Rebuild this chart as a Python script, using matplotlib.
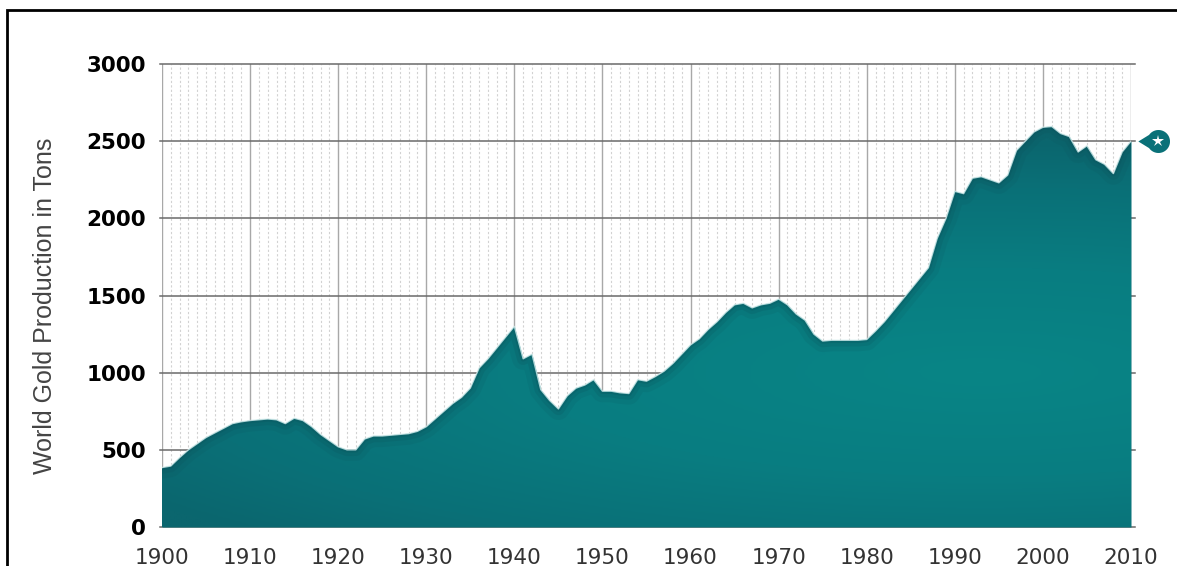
import numpy as np
import matplotlib
matplotlib.use("Agg")
import matplotlib.pyplot as plt
from matplotlib.colors import LinearSegmentedColormap
from matplotlib.patches import Rectangle
from matplotlib.path import Path

# world gold production, tons per year
years = np.arange(1900, 2011)
tons = [
    385, 395, 450, 500, 540, 580, 610, 640, 670, 682,          # 1900s
    690, 695, 700, 695, 670, 705, 690, 650, 600, 560,          # 1910s
    520, 500, 500, 570, 590, 590, 595, 600, 605, 620,          # 1920s
    650, 700, 750, 800, 840, 900, 1030, 1090, 1160, 1230,      # 1930s
    1300, 1090, 1120, 890, 820, 765, 850, 900, 920, 955,       # 1940s
    880, 880, 870, 865, 955, 945, 975, 1010, 1060, 1120,       # 1950s
    1180, 1220, 1280, 1330, 1390, 1440, 1450, 1420, 1440, 1450,  # 1960s
    1477, 1440, 1380, 1340, 1250, 1205, 1210, 1210, 1210, 1210,  # 1970s
    1215, 1270, 1330, 1400, 1470, 1540, 1610, 1680, 1870, 2000,  # 1980s
    2175, 2160, 2260, 2270, 2250, 2230, 2280, 2440, 2500, 2560,  # 1990s
    2590, 2595, 2550, 2530, 2430, 2470, 2380, 2350, 2290, 2430,  # 2000s
    2500,
]
yticks = [0, 500, 1000, 1500, 2000, 2500, 3000]
xticks = list(range(1900, 2011, 10))

teal = "#0a7178"

fig = plt.figure(figsize=(11.77, 5.66), dpi=100)
ax = fig.add_axes([162 / 1177, 39 / 566, 969 / 1177, 463 / 566])

# grid: light dashed yearly lines, solid decade lines, dark horizontals
for yr in range(1900, 2011):
    if yr % 10:
        ax.axvline(yr, color="#d2d2d2", lw=0.8, ls=(0, (2, 2)), zorder=0)
    else:
        ax.axvline(yr, color="#a8a8a8", lw=1.0, zorder=0)
for v in yticks:
    ax.plot([1899.8, 2010.4], [v, v], color="#6a6a6a", lw=1.1, zorder=0.5,
            clip_on=False)

# filled area with radial teal gradient
poly = ax.fill_between(years, tons, 0, color=teal, lw=0, zorder=2)
clip = poly.get_paths()[0]
gx, gy = np.meshgrid(np.linspace(1900, 2010, 400), np.linspace(0, 3000, 300))
r = np.sqrt(((gx - 1993) / 115.0) ** 2 + ((gy - 1000) / 1500.0) ** 2)
r = np.clip(r, 0, 1)
cmap = LinearSegmentedColormap.from_list(
    "teal", [(0, "#088586"), (0.45, "#097d81"), (0.8, "#0a7077"), (1, "#0b666e")])
img = ax.imshow(r, extent=[1900, 2010, 0, 3000], origin="lower", cmap=cmap,
                aspect="auto", zorder=3, interpolation="bilinear")
img.set_clip_path(clip, transform=ax.transData)

# soft inner shadow along the top edge
for lw, a in [(16, 0.12), (9, 0.18), (4, 0.25)]:
    ln, = ax.plot(years, tons, color="#0b4f58", lw=lw, alpha=a, zorder=3.5,
                  solid_capstyle="round")
    ln.set_clip_path(clip, transform=ax.transData)
ax.plot(years, tons, color="#d8f0f0", lw=1.0, zorder=4, alpha=0.8)

ax.set_xlim(1900, 2010)
ax.set_ylim(0, 3000)
ax.set_xticks(xticks)
ax.set_yticks(yticks)
for s in ax.spines.values():
    s.set_visible(False)
ax.tick_params(axis="both", length=0)
ax.tick_params(axis="x", pad=15, labelsize=15.5, labelcolor="#333333")
ax.tick_params(axis="y", pad=11.5, labelsize=15.5)
for lab in ax.get_yticklabels():
    lab.set_fontweight("bold")
ax.set_ylabel("World Gold Production in Tons", fontsize=18, color="#444444",
              family=["Liberation Sans", "DejaVu Sans"])
ax.yaxis.set_label_coords(-0.108, 0.477)

# marker on the right: teal teardrop with white star
ang = np.linspace(np.radians(-145), np.radians(145), 40)
verts = [(-1.75, 0.0)] + [(np.cos(t), np.sin(t)) for t in ang[::-1]] + [(-1.75, 0.0)]
drop = Path(verts, closed=True)
ax.plot([2013.1], [2500], marker=drop, ms=29, color=teal, mew=0,
        clip_on=False, zorder=5)
ax.plot([2013.1], [2500], marker="*", ms=9, color="white", mew=0,
        clip_on=False, zorder=6)

# border frame around the figure
fig.patches.append(Rectangle((7 / 1177, -0.1), 1.2, 1 - 10 / 566 + 0.1,
                             transform=fig.transFigure, fill=False,
                             edgecolor="black", lw=2))

fig.savefig("out.png", dpi=100)
